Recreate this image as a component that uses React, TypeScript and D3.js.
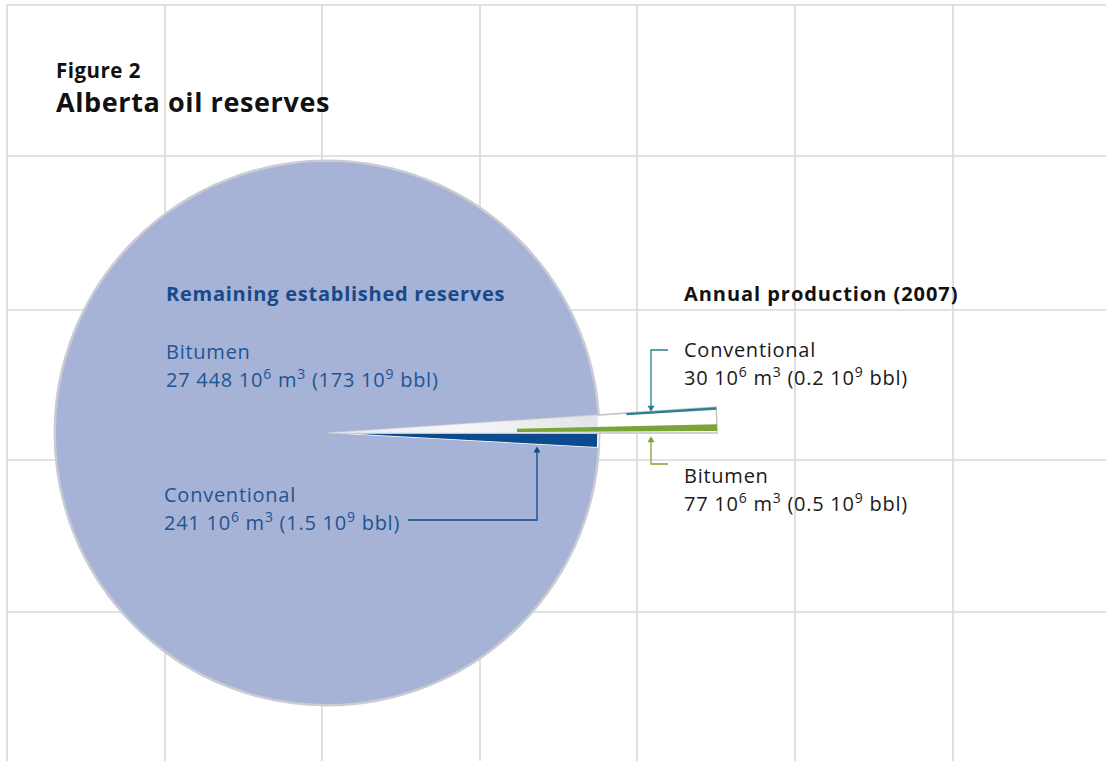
import React from "react";
import * as d3 from "d3";

// ---- Data (10^6 m3 and 10^9 bbl) ----
const reserveCategories = ["Conventional", "Bitumen"];
const reserveValues = [241, 27448];
const reserveBbl = ["1.5", "173"];
const productionCategories = ["Conventional", "Bitumen"];
const productionValues = [30, 77];
const productionBbl = ["0.2", "0.5"];
const titleSmall = "Figure 2";
const titleLarge = "Alberta oil reserves";
const reservesHeading = "Remaining established reserves";
const productionHeading = "Annual production (2007)";

const W = 1106;
const H = 761;
const cx = 327;
const cy = 433;
const R = 271;
const R2 = 390;
const FONT = "'Open Sans', 'Noto Sans', sans-serif";

const gridX = [7, 165, 322, 480, 637, 795, 953];
const gridY = [5, 156, 310, 460, 612];

const COLORS = {
  bitumenRes: "#a6b2d6",
  convRes: "#0b4b8e",
  convProd: "#2b7f91",
  bitProd: "#7ba437",
  textBlue: "#1d5595",
  headBlue: "#174a88",
};

function fmtNum(v: number) {
  return d3.format(",")(v).replace(/,/g, " ");
}

function Label({ x, y, name, val, bbl, color }: any) {
  return (
    <g fill={color} fontFamily={FONT} fontSize={20} letterSpacing={0.75}>
      <text x={x} y={y}>{name}</text>
      <text x={x} y={y + 28}>
        {fmtNum(val)} 10
        <tspan dy={-8} fontSize={14}>6</tspan>
        <tspan dy={8}> m</tspan>
        <tspan dy={-8} fontSize={14}>3</tspan>
        <tspan dy={8}> ({bbl} 10</tspan>
        <tspan dy={-8} fontSize={14}>9</tspan>
        <tspan dy={8}> bbl)</tspan>
      </text>
    </g>
  );
}

export default function App() {
  const total = d3.sum(reserveValues);
  const k = (2 * Math.PI) / total;
  const pie = d3
    .pie<number>()
    .sort(null)
    .startAngle(Math.PI / 2)
    .endAngle(Math.PI / 2 + 2 * Math.PI);
  const slices = pie(reserveValues);
  const arc = d3.arc<any>().innerRadius(0).outerRadius(R);

  const deg = Math.PI / 180;
  const gap = 0.3 * deg;
  const bitEnd = Math.PI / 2 - gap;
  const bitStart = bitEnd - productionValues[1] * k;
  const wedgeStart = Math.PI / 2 - 3.8 * deg;
  const convStart = wedgeStart;
  const convEnd = convStart + productionValues[0] * k;

  const wedgeArc = d3.arc<any>()({
    innerRadius: 0,
    outerRadius: R2,
    startAngle: wedgeStart,
    endAngle: Math.PI / 2,
  });
  const wedgeInner = d3.arc<any>()({
    innerRadius: 0,
    outerRadius: R,
    startAngle: wedgeStart,
    endAngle: Math.PI / 2,
  });
  const bitArc = d3.arc<any>()({
    innerRadius: 190,
    outerRadius: R2,
    startAngle: bitStart,
    endAngle: bitEnd,
  });
  const convArc = d3.arc<any>()({
    innerRadius: 300,
    outerRadius: R2,
    startAngle: convStart,
    endAngle: convEnd,
  });

  const convResAngle = slices[0].endAngle - Math.PI / 2;
  const blueX = 537;
  const blueTip = cy + (blueX - cx) * Math.tan(convResAngle) + 2;
  const tealX = 651;
  const tealTip = cy - (tealX - cx) * Math.tan(Math.PI / 2 - convEnd) - 2;
  const greenX = 651;
  const greenTip = cy - (greenX - cx) * Math.tan(gap) + 5;

  const arrowUp = (x: number, y: number, c: string) => (
    <path d={`M${x},${y} L${x - 3.5},${y + 6} L${x + 3.5},${y + 6} Z`} fill={c} />
  );
  const arrowDown = (x: number, y: number, c: string) => (
    <path d={`M${x},${y} L${x - 3.5},${y - 6} L${x + 3.5},${y - 6} Z`} fill={c} />
  );

  return (
    <svg
      width={W}
      height={H}
      style={{ position: "absolute", left: 0, top: 0, background: "#fff" }}
    >
      <defs>
        <linearGradient id="wedgeGrad" x1="0" x2="1" y1="0" y2="0">
          <stop offset="0" stopColor="#e6e8ee" />
          <stop offset="0.5" stopColor="#f4f4f6" />
          <stop offset="1" stopColor="#dcdde2" />
        </linearGradient>
      </defs>
      {/* grid */}
      <g stroke="#d8d8d8" strokeWidth={1.6}>
        {gridX.map((x) => (
          <line key={"x" + x} x1={x} x2={x} y1={gridY[0]} y2={H} />
        ))}
        {gridY.map((y) => (
          <line key={"y" + y} x1={gridX[0]} x2={W} y1={y} y2={y} />
        ))}
      </g>

      {/* titles */}
      <text x={56} y={78} fontFamily={FONT} fontWeight={700} fontSize={20.5} letterSpacing={0.5} fill="#111">
        {titleSmall}
      </text>
      <text x={56} y={112} fontFamily={FONT} fontWeight={700} fontSize={27} letterSpacing={0.6} fill="#111">
        {titleLarge}
      </text>

      {/* reserves pie */}
      <g transform={`translate(${cx},${cy})`}>
        <circle r={R + 1} fill="none" stroke="#c9ccd4" strokeWidth={3} />
        {slices.map((s, i) => (
          <path
            key={reserveCategories[i]}
            d={arc(s) as string}
            fill={i === 0 ? COLORS.convRes : COLORS.bitumenRes}
            stroke="#fff"
            strokeWidth={i === 0 ? 1.5 : 0}
          />
        ))}
        {/* exploded production wedge */}
        <path d={wedgeArc as string} fill="#fff" stroke="#c4c4c4" strokeWidth={1.5} />
        <path d={wedgeInner as string} fill="url(#wedgeGrad)" opacity={0.8} />
        <path d={bitArc as string} fill={COLORS.bitProd} />
        <path d={convArc as string} fill={COLORS.convProd} />
      </g>

      {/* reserves labels */}
      <text x={166} y={301} fontFamily={FONT} fontWeight={700} fontSize={20} letterSpacing={0.75} fill={COLORS.headBlue}>
        {reservesHeading}
      </text>
      <Label x={166} y={359} name={reserveCategories[1]} val={reserveValues[1]} bbl={reserveBbl[1]} color={COLORS.textBlue} />
      <Label x={164} y={502} name={reserveCategories[0]} val={reserveValues[0]} bbl={reserveBbl[0]} color={COLORS.textBlue} />
      <path
        d={`M408,520 H${blueX} V${blueTip + 5}`}
        fill="none"
        stroke={COLORS.convRes}
        strokeWidth={1.3}
      />
      {arrowUp(blueX, blueTip, COLORS.convRes)}

      {/* production labels */}
      <text x={684} y={301} fontFamily={FONT} fontWeight={700} fontSize={20} letterSpacing={0.95} fill="#111">
        {productionHeading}
      </text>
      <Label x={684} y={357} name={productionCategories[0]} val={productionValues[0]} bbl={productionBbl[0]} color="#1a1a1a" />
      <Label x={684} y={483} name={productionCategories[1]} val={productionValues[1]} bbl={productionBbl[1]} color="#1a1a1a" />
      <path
        d={`M668,350 H${tealX} V${tealTip - 5}`}
        fill="none"
        stroke={COLORS.convProd}
        strokeWidth={1.3}
      />
      {arrowDown(tealX, tealTip, COLORS.convProd)}
      <path
        d={`M668,464 H${greenX} V${greenTip + 5}`}
        fill="none"
        stroke={COLORS.bitProd}
        strokeWidth={1.3}
      />
      {arrowUp(greenX, greenTip, COLORS.bitProd)}
    </svg>
  );
}
